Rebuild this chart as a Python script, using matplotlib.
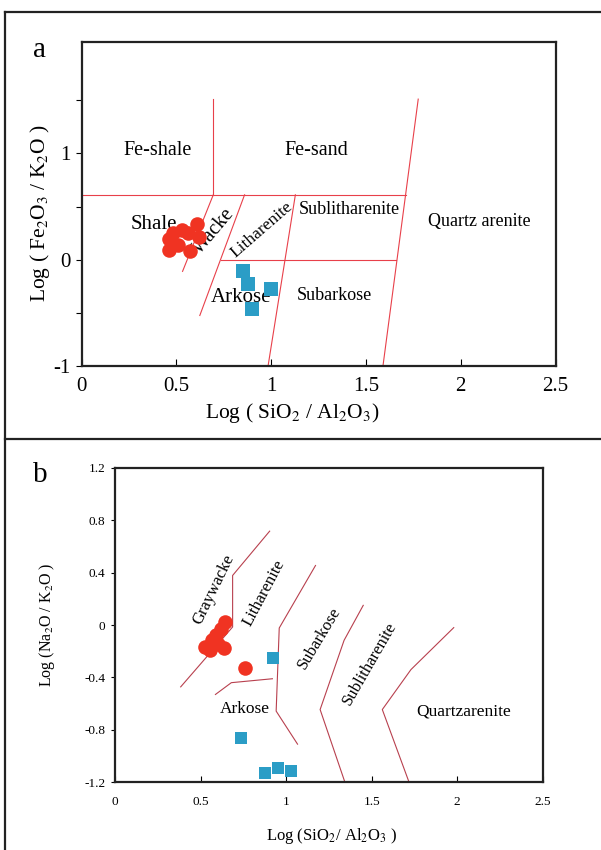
import matplotlib
matplotlib.use("Agg")
import matplotlib.pyplot as plt
from matplotlib.lines import Line2D

plt.rcParams['font.family'] = ['Liberation Serif', 'DejaVu Serif']
plt.rcParams['mathtext.fontset'] = 'stix'
plt.rcParams['axes.unicode_minus'] = False

# ---------------- Panel a data (Herron 1988) ----------------
a_red_x = [0.46, 0.46, 0.48, 0.53, 0.56, 0.61, 0.62, 0.57, 0.51]
a_red_y = [0.09, 0.19, 0.25, 0.28, 0.25, 0.34, 0.21, 0.08, 0.14]
a_blue_x = [0.85, 0.88, 1.00, 0.90]
a_blue_y = [-0.11, -0.23, -0.28, -0.46]

a_lines = [
    ([0.0, 1.71], [0.61, 0.61]),
    ([0.695, 0.695], [0.61, 1.51]),
    ([0.695, 0.533], [0.61, -0.11]),
    ([0.86, 0.624], [0.61, -0.525]),
    ([1.128, 0.984], [0.61, -1.0]),
    ([0.736, 1.66], [0.0, 0.0]),
    ([1.776, 1.59], [1.51, -1.0]),
]
a_labels = [
    ("Fe-shale", 0.40, 1.03, 0, 14.5),
    ("Fe-sand", 1.24, 1.03, 0, 14.5),
    ("Shale", 0.38, 0.33, 0, 15),
    ("Wacke", 0.70, 0.27, 50, 14.5),
    ("Litharenite", 0.95, 0.28, 41, 12.5),
    ("Sublitharenite", 1.41, 0.475, 0, 13),
    ("Quartz arenite", 2.10, 0.36, 0, 13),
    ("Subarkose", 1.335, -0.34, 0, 13),
    ("Arkose", 0.84, -0.36, 0, 15),
]
a_xticks = [0, 0.5, 1, 1.5, 2, 2.5]
a_xticklabels = ["0", "0.5", "1", "1.5", "2", "2.5"]
a_yticks = [-1, -0.5, 0, 0.5, 1, 1.5]
a_yticklabels = ["-1", "", "0", "", "1", ""]

# ---------------- Panel b data (Pettijohn 1972) ----------------
b_red_x = [0.643, 0.618, 0.59, 0.569, 0.525, 0.558, 0.636, 0.603, 0.759]
b_red_y = [0.023, -0.033, -0.079, -0.117, -0.168, -0.193, -0.173, -0.142, -0.325]
b_blue_x = [0.922, 0.737, 0.875, 0.955, 1.027]
b_blue_y = [-0.251, -0.86, -1.132, -1.094, -1.112]

b_lines = [
    ([0.384, 0.6875, 0.6875, 0.904], [-0.472, -0.015, 0.378, 0.716]),
    ([0.587, 0.68, 0.92], [-0.53, -0.44, -0.41]),
    ([1.172, 0.96, 0.942, 1.067], [0.454, -0.023, -0.657, -0.909]),
    ([1.451, 1.339, 1.199, 1.344], [0.15, -0.117, -0.645, -1.2]),
    ([1.98, 1.73, 1.5625, 1.719], [-0.02, -0.34, -0.645, -1.2]),
]
b_labels = [
    ("Graywacke", 0.575, 0.27, 64, 12),
    ("Litharenite", 0.87, 0.246, 62, 12),
    ("Subarkose", 1.194, -0.097, 59, 12),
    ("Sublitharenite", 1.49, -0.295, 60, 12),
    ("Arkose", 0.76, -0.637, 0, 12.5),
    ("Quartzarenite", 2.04, -0.657, 0, 12.5),
]
b_xticks = [0, 0.5, 1, 1.5, 2, 2.5]
b_xticklabels = ["0", "0.5", "1", "1.5", "2", "2.5"]
b_yticks = [-1.2, -0.8, -0.4, 0, 0.4, 0.8, 1.2]
b_yticklabels = ["-1.2", "-0.8", "-0.4", "0", "0.4", "0.8", "1.2"]

RED = '#f03322'
BLUE = '#2b9dc6'
LINE_A = '#e8404a'
LINE_B = '#b8404e'

W, H = 601, 850
fig = plt.figure(figsize=(W / 100, H / 100), dpi=100)

def fx(px):
    return px / W

def fy(py):
    return 1 - py / H

# panel frames
fig.add_artist(Line2D([fx(4.5), fx(4.5)], [fy(12.3), fy(850)], color='#222222', lw=1.6, transform=fig.transFigure))
fig.add_artist(Line2D([fx(4.5), fx(601)], [fy(12.3), fy(12.3)], color='#222222', lw=1.6, transform=fig.transFigure))
fig.add_artist(Line2D([fx(4.5), fx(601)], [fy(438.5), fy(438.5)], color='#222222', lw=1.6, transform=fig.transFigure))

# ---------- Panel a ----------
axa = fig.add_axes([fx(81.5), fy(366), fx(555.5 - 81.5), (366 - 41.7) / H])
for xs, ys in a_lines:
    axa.plot(xs, ys, color=LINE_A, lw=0.8, zorder=1)
for t, x, y, r, fs in a_labels:
    axa.text(x, y, t, rotation=r, fontsize=fs, ha='center', va='center', rotation_mode='anchor', zorder=2)
axa.scatter(a_red_x, a_red_y, s=110, marker='o', color=RED, zorder=3, linewidths=0)
axa.scatter(a_blue_x, a_blue_y, s=105, marker='s', color=BLUE, zorder=3, linewidths=0)
axa.set_xlim(0, 2.5)
axa.set_ylim(-1, 2.05)
axa.set_xticks(a_xticks)
axa.set_xticklabels(a_xticklabels)
axa.set_yticks(a_yticks)
axa.set_yticklabels(a_yticklabels)
axa.tick_params(axis='x', direction='in', length=5, width=0.8, labelsize=15, pad=8)
axa.tick_params(axis='y', direction='out', length=4, width=0.8, labelsize=15, pad=4)
for sp in axa.spines.values():
    sp.set_linewidth(1.6)
    sp.set_color('#222222')

fig.text(fx(292), fy(413), "Log ( SiO$_2$ / Al$_2$O$_3$)", fontsize=15.5, ha='center', va='center')
fig.text(fx(40), fy(213), "Log ( Fe$_2$O$_3$ / K$_2$O )", fontsize=15.5, ha='center', va='center', rotation=90)
fig.text(fx(40), fy(50), "a", fontsize=21, ha='center', va='center')

# ---------- Panel b ----------
axb = fig.add_axes([fx(115), fy(782.3), fx(542.7 - 115), (782.3 - 467.7) / H])
for xs, ys in b_lines:
    axb.plot(xs, ys, color=LINE_B, lw=0.8, zorder=1)
for t, x, y, r, fs in b_labels:
    axb.text(x, y, t, rotation=r, fontsize=fs, ha='center', va='center', rotation_mode='anchor', zorder=2)
axb.scatter(b_red_x, b_red_y, s=110, marker='o', color=RED, zorder=3, linewidths=0)
axb.scatter(b_blue_x, b_blue_y, s=80, marker='s', color=BLUE, zorder=3, linewidths=0)
axb.set_xlim(0, 2.5)
axb.set_ylim(-1.2, 1.2)
axb.set_xticks(b_xticks)
axb.set_xticklabels(b_xticklabels)
axb.set_yticks(b_yticks)
axb.set_yticklabels(b_yticklabels)
axb.tick_params(axis='x', direction='in', length=4, width=0.8, labelsize=9.5, pad=10)
axb.tick_params(axis='y', direction='out', length=3, width=0.8, labelsize=9.5, pad=4)
for sp in axb.spines.values():
    sp.set_linewidth(1.6)
    sp.set_color('#222222')

fig.text(fx(332), fy(836), "Log (SiO$_2$/ Al$_2$O$_3$ )", fontsize=12, ha='center', va='center')
fig.text(fx(47), fy(625), "Log (Na$_2$O / K$_2$O )", fontsize=11.5, ha='center', va='center', rotation=90)
fig.text(fx(40), fy(475), "b", fontsize=21, ha='center', va='center')

fig.savefig("out.png", dpi=100)
